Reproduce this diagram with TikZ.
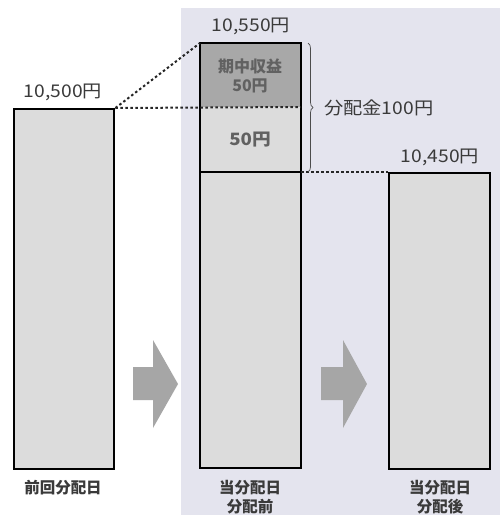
\documentclass[tikz,border=0pt]{standalone}
\usepackage{fontspec}
\setmainfont{Noto Sans CJK JP}
\usetikzlibrary{decorations.pathreplacing}
\definecolor{panel}{HTML}{E4E4EE}
\definecolor{boxfill}{HTML}{DCDCDC}
\definecolor{darkfill}{HTML}{A8A8A8}
\definecolor{arrowgray}{HTML}{A6A6A6}
\definecolor{txt}{HTML}{3A3A3A}
\tikzset{
  bar/.style={draw=black, line width=2.4pt, fill=boxfill},
  dotline/.style={line width=2pt, dash pattern=on 2.5pt off 2.5pt, black!85},
  lbl/.style={text=txt, font=\fontsize{17.5}{18}\selectfont, inner sep=0pt, xscale=1.1},
  blbl/.style={text=txt, font=\fontsize{15.5}{19}\selectfont\bfseries, inner sep=0pt, align=center},
  bigarrow/.style={fill=arrowgray, draw=none}
}
\begin{document}
\begin{tikzpicture}[x=1pt,y=-1pt]
\useasboundingbox (0,0) rectangle (500,515);
\fill[white] (0,0) rectangle (500,515);
\fill[panel] (181,8) rectangle (500,515);
% bars
\node[bar, minimum width=100pt, minimum height=360pt, anchor=north west, inner sep=0pt] (b1) at (13,108) {};
\fill[boxfill] (200,43) rectangle (301,468);
\fill[darkfill] (200,43) rectangle (301,107);
\draw[draw=black, line width=2.4pt] (200,43) rectangle (301,468);
\coordinate (b2tl) at (200,43);
\coordinate (b2ml) at (200,107);
\coordinate (b2mr) at (301,107);
\coordinate (b2sl) at (200,172);
\coordinate (b2sr) at (301,172);
\draw[line width=2.2pt] (b2sl) -- (b2sr);
\node[bar, minimum width=101pt, minimum height=296pt, anchor=north west, inner sep=0pt] (b3) at (388,172) {};
% dotted connectors
\draw[dotline] (b1.north east) -- (b2tl);
\draw[dotline] (b1.north east) -- (b2mr);
\draw[dotline] (b2sr) -- (b3.north west);
% brace
\draw[decorate, decoration={brace, amplitude=5pt}, line width=0.7pt, black!70] (308,43) -- (308,172);
% texts
\node[lbl] (t1) at (63,92) {10,500円};
\node[lbl] (t2) at (251,26) {10,550円};
\node[lbl] (t3) at (440,157) {10,450円};
\node[lbl, anchor=west] (t4) at (324,108) {分配金100円};
\node[text=black!62, font=\fontsize{16}{18.5}\selectfont\bfseries, inner sep=0pt, align=center] (t5) at (250,76) {期中収益\\50円};
\node[lbl, text=black!62, font=\fontsize{17}{18}\selectfont\bfseries] (t6) at (250,140) {50円};
\node[blbl] (l1) at (63,488) {前回分配日};
\node[blbl] (l2) at (250,497) {当分配日\\分配前};
\node[blbl] (l3) at (440,497) {当分配日\\分配後};
% block arrows
\fill[bigarrow] (133,367) -- (153,367) -- (153,340) -- (178,384) -- (153,428) -- (153,400) -- (133,400) -- cycle;
\fill[bigarrow] (321,367) -- (343,367) -- (343,340) -- (367,384) -- (343,428) -- (343,400) -- (321,400) -- cycle;
\end{tikzpicture}
\end{document}
